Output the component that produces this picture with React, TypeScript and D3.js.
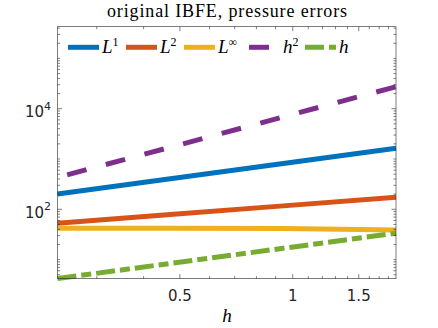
import * as d3 from 'd3';

// mesh widths and error norms
const hValues = [0.2357, 0.4714, 0.9428, 1.8856];
const errL1 = [201, 405, 813, 1634];
const errL2 = [52.7, 79, 117, 173];
const errLinf = [41.9, 41.9, 41.5, 38.8];
const refH2 = [430, 1715, 6860, 27400];
const refH = [4.2, 8.4, 16.8, 33.5];

const xTickValues = [0.5, 1, 1.5];
const xTickLabels = ['0.5', '1', '1.5'];
const yTickValues = [1e2, 1e4];
const yTickExponents = ['2', '4'];

const W = 438;
const H = 328;
const left = 57.5;
const right = 396;
const top = 26.7;
const bottom = 278.7;

const series = [
  { name: 'L1', values: errL1, color: '#0072BD', dash: null, base: 'L', sup: '1', legendX: 68 },
  { name: 'L2', values: errL2, color: '#D95319', dash: null, base: 'L', sup: '2', legendX: 126 },
  { name: 'Linf', values: errLinf, color: '#EDB120', dash: null, base: 'L', sup: '∞', legendX: 184 },
  { name: 'h2', values: refH2, color: '#7E2F8E', dash: '20 20', offset: 30, base: 'h', sup: '2', legendX: 249 },
  { name: 'h', values: refH, color: '#77AC30', dash: '19 5 10 5', offset: 0, base: 'h', sup: '', legendX: 305 },
];

const App = () => {
  const x = d3.scaleLog().domain([0.2357, 1.8856]).range([left, right]);
  const y = d3.scaleLog().domain([4.17, 4.27e5]).range([bottom, top]);

  const line = d3
    .line<[number, number]>()
    .x((d) => x(d[0]))
    .y((d) => y(d[1]));

  const xMinor = d3.range(3, 19).map((k) => k / 10).filter((v) => !xTickValues.includes(v));
  const yMinor: number[] = [];
  for (let n = 0; n <= 5; n++) {
    for (let k = 1; k <= 9; k++) {
      const v = k * Math.pow(10, n);
      if (v >= 4.17 && v <= 4.27e5 && !yTickValues.includes(v)) yMinor.push(v);
    }
  }

  const tickColor = '#262626';
  const legendY = 47.3;

  return (
    <div style={{ position: 'fixed', left: 0, top: 0 }}>
      <svg width={W} height={H} style={{ display: 'block', background: '#fff' }}>
        <rect x={0} y={0} width={W} height={H} fill="#fff" />

        {/* data */}
        <g fill="none" strokeWidth={5}>
          {series.map((s) => (
            <path
              key={s.name}
              d={line(hValues.map((h, i) => [h, s.values[i]] as [number, number])) || ''}
              stroke={s.color}
              strokeDasharray={s.dash || undefined}
              strokeDashoffset={s.offset || 0}
            />
          ))}
        </g>

        {/* ticks */}
        <g stroke={tickColor} strokeWidth={0.6}>
          {xMinor.map((v) => (
            <g key={'xm' + v}>
              <line x1={x(v)} x2={x(v)} y1={bottom} y2={bottom - 2.5} />
              <line x1={x(v)} x2={x(v)} y1={top} y2={top + 2.5} />
            </g>
          ))}
          {xTickValues.map((v) => (
            <g key={'xM' + v}>
              <line x1={x(v)} x2={x(v)} y1={bottom} y2={bottom - 4.5} />
              <line x1={x(v)} x2={x(v)} y1={top} y2={top + 4.5} />
            </g>
          ))}
          {yMinor.map((v) => (
            <g key={'ym' + v}>
              <line x1={left} x2={left + 2.5} y1={y(v)} y2={y(v)} />
              <line x1={right} x2={right - 2.5} y1={y(v)} y2={y(v)} />
            </g>
          ))}
          {yTickValues.map((v) => (
            <g key={'yM' + v}>
              <line x1={left} x2={left + 4.5} y1={y(v)} y2={y(v)} />
              <line x1={right} x2={right - 4.5} y1={y(v)} y2={y(v)} />
            </g>
          ))}
        </g>
        <rect
          x={left}
          y={top}
          width={right - left}
          height={bottom - top}
          fill="none"
          stroke={tickColor}
          strokeWidth={0.6}
        />

        {/* tick labels */}
        <g fill={tickColor} fontFamily="DejaVu Sans" fontSize={15}>
          {xTickValues.map((v, i) => (
            <text key={'xl' + v} x={x(v)} y={300.7} textAnchor="middle">
              {xTickLabels[i]}
            </text>
          ))}
          {yTickValues.map((v, i) => (
            <text key={'yl' + v} x={51} y={y(v) + 8.6} textAnchor="end">
              10
              <tspan dy={-7.5} fontSize={11}>
                {yTickExponents[i]}
              </tspan>
            </text>
          ))}
        </g>

        {/* title and axis label */}
        <text
          x={227}
          y={17}
          textAnchor="middle"
          fontFamily="Liberation Serif"
          fontSize={18}
          textLength={240}
          lengthAdjust="spacing"
          fill="#000"
        >
          original IBFE, pressure errors
        </text>
        <text
          x={227}
          y={322}
          textAnchor="middle"
          fontFamily="Liberation Serif"
          fontStyle="italic"
          fontSize={19}
          fill="#000"
        >
          h
        </text>

        {/* legend */}
        {series.map((s) => (
          <g key={'lg' + s.name}>
            <line
              x1={s.legendX}
              x2={s.legendX + 31}
              y1={legendY}
              y2={legendY}
              stroke={s.color}
              strokeWidth={5}
              strokeDasharray={s.dash || undefined}
            />
            <text
              x={s.legendX + 34}
              y={legendY + 6}
              fontFamily="Liberation Serif"
              fontSize={19}
              fill="#000"
            >
              <tspan fontStyle="italic">{s.base}</tspan>
              {s.sup && (
                <tspan dy={-7} fontSize={12}>
                  {s.sup}
                </tspan>
              )}
            </text>
          </g>
        ))}
      </svg>
    </div>
  );
};

export default App;
